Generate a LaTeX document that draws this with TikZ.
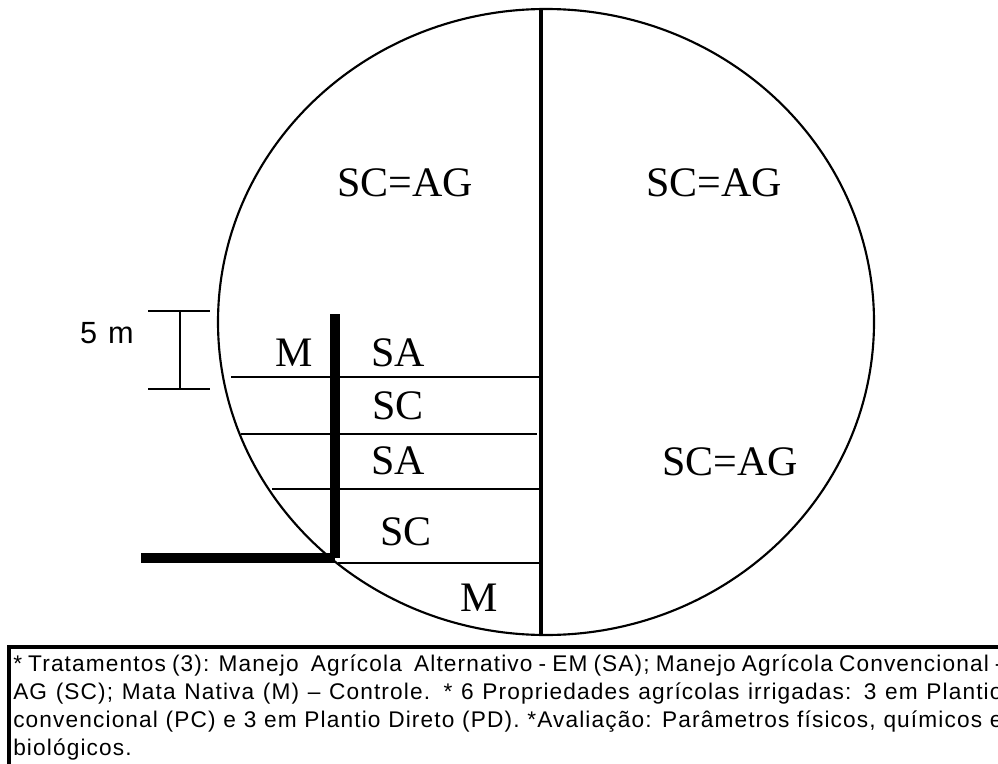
\documentclass[tikz,border=0pt]{standalone}
\usepackage{fontspec}
\setmainfont{Liberation Serif}
\newfontfamily\notefont[LetterSpace=5]{Liberation Sans}
\newfontfamily\barfont[LetterSpace=8]{Liberation Sans}
\begin{document}
\begin{tikzpicture}[x=0.75pt,y=-0.75pt,
  thinline/.style={line width=2pt},
  thickline/.style={line width=7.5pt},
  plotlabel/.style={font=\fontsize{31.5}{36}\selectfont, inner sep=0pt},
]
\useasboundingbox (0,0) rectangle (998,763);
% field ellipse
\draw[line width=1.6pt] (546,322) ellipse [x radius=328, y radius=313];
\coordinate (top) at (541,9);
\coordinate (bot) at (541,635);
\draw[line width=2.3pt] (top) -- (bot);
% plot division lines
\coordinate (l1a) at (231,377); \coordinate (l1b) at (541,377);
\coordinate (l2a) at (241,434); \coordinate (l2b) at (537,434);
\coordinate (l3a) at (272,489); \coordinate (l3b) at (541,489);
\coordinate (l4a) at (338,563); \coordinate (l4b) at (541,563);
\draw[thinline] (l1a) -- (l1b);
\draw[thinline] (l2a) -- (l2b);
\draw[thinline] (l3a) -- (l3b);
\draw[thinline] (l4a) -- (l4b);
% thick L
\coordinate (tv) at (335,314);
\coordinate (corner) at (335,558);
\coordinate (th) at (141,558);
\draw[thickline] (tv) -- (corner);
\draw[thickline] (th) -- (corner);
% scale bar
\coordinate (sb1) at (148,311); \coordinate (sb2) at (210,311);
\coordinate (sb3) at (148,389); \coordinate (sb4) at (210,389);
\coordinate (sbt) at (180,311); \coordinate (sbb) at (180,389);
\draw[line width=1.6pt] (sb1) -- (sb2) (sb3) -- (sb4) (sbt) -- (sbb);
\node[inner sep=0pt, font=\barfont\fontsize{23}{26}\selectfont] (five) at (107,333) {5 m};
% labels
\node[plotlabel] (tl) at (405,183) {SC=AG};
\node[plotlabel] (tr) at (714,183) {SC=AG};
\node[plotlabel] (br) at (730,462) {SC=AG};
\node[plotlabel] (m1) at (294,353) {M};
\node[plotlabel] (sa1) at (398,353) {SA};
\node[plotlabel] (sc1) at (398,406) {SC};
\node[plotlabel] (sa2) at (398,461) {SA};
\node[plotlabel] (sc2) at (406,532) {SC};
\node[plotlabel] (m2) at (479,598) {M};
% note box
\coordinate (bx1) at (9,780);
\coordinate (bx2) at (9,647);
\coordinate (bx3) at (1010,647);
\draw[line width=3pt] (bx1) -- (bx2) -- (bx3);
\node[anchor=north west, inner sep=0pt, text width=742pt, align=justify,
  font=\notefont\fontsize{17}{20.8}\selectfont] (note) at (13,655)
{\tolerance=9999\relax\emergencystretch=20pt\relax
* Tratamentos (3): Manejo \ Agrícola \ Alternativo - EM (SA); Manejo Agrícola Convencional -\linebreak
AG (SC); Mata Nativa (M) – Controle. * 6 Propriedades agrícolas irrigadas: 3 em Plantio\linebreak
convencional (PC) e 3 em Plantio Direto (PD). *Avaliação: Parâmetros físicos, químicos e\linebreak
biológicos.\par};
\end{tikzpicture}
\end{document}
